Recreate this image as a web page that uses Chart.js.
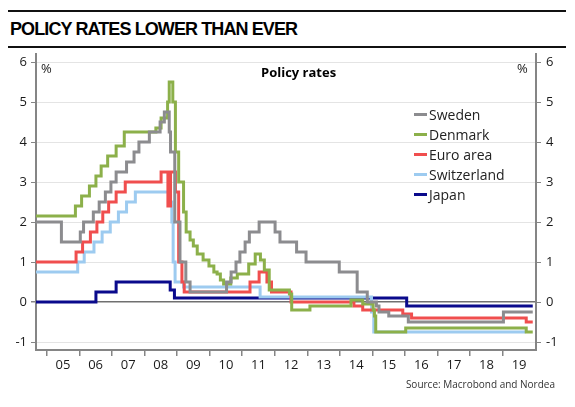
<!DOCTYPE html>
<html>
<head>
<meta charset="utf-8">
<script src="https://cdn.jsdelivr.net/npm/chart.js@4.4.1/dist/chart.umd.min.js"></script>
<style>
  body { margin: 0; background: #fff; }
  #wrap { position: relative; width: 575px; height: 407px; overflow: hidden; font-family: "Open Sans", sans-serif; }
  #ratesChart { position: absolute; left: 0; top: 0; }
  .rule { position: absolute; left: 8px; width: 558px; height: 2px; background: #111; }
  .title { position: absolute; left: 10px; top: 19px; font: bold 18px "Liberation Sans", Arial, sans-serif; color: #000; letter-spacing: -0.9px; }
  .sub { position: absolute; left: 261px; top: 63px; font-weight: bold; font-size: 13px; color: #000; }
  .pct { position: absolute; top: 59px; font-size: 13px; color: #222; }
  #legend { position: absolute; left: 414px; top: 104px; }
  #legend .item { height: 20px; display: flex; align-items: center; font-size: 14px; color: #222; }
  #legend .sw { display: inline-block; width: 13px; height: 3px; margin-right: 2px; }
  .source { position: absolute; right: 20px; top: 377px; font-size: 10px; color: #333; }
</style>
</head>
<body>
<div id="wrap">
  <div class="rule" style="top:10px"></div>
  <div class="title">POLICY RATES LOWER THAN EVER</div>
  <div class="rule" style="top:46px"></div>
  <canvas id="ratesChart" width="575" height="407"></canvas>
  <div class="sub">Policy rates</div>
  <div class="pct" style="left:41px">%</div>
  <div class="pct" style="left:517px">%</div>
  <div id="legend"></div>
  <div class="source">Source: Macrobond and Nordea</div>
</div>
<script>
// DATOS: [año, tipo] -- cada punto marca el inicio de un nuevo nivel
const seriesNames = ['Sweden', 'Denmark', 'Euro area', 'Switzerland', 'Japan'];
const seriesColors = ['#8c8c8f', '#8cb04a', '#f04e4e', '#9dcbf0', '#0a0a8c'];

const sweden = [
  [2004.67, 2.0], [2005.45, 1.5], [2006.03, 1.75], [2006.13, 2.0], [2006.43, 2.25], [2006.61, 2.5],
  [2006.8, 2.75], [2006.97, 3.0], [2007.13, 3.25], [2007.45, 3.5], [2007.68, 3.75], [2007.83, 4.0],
  [2008.15, 4.25], [2008.48, 4.5], [2008.61, 4.75], [2008.76, 4.25], [2008.8, 3.75], [2008.93, 2.0],
  [2009.09, 1.0], [2009.27, 0.5], [2009.4, 0.25], [2010.52, 0.5], [2010.66, 0.75], [2010.81, 1.0],
  [2010.93, 1.25], [2011.09, 1.5], [2011.22, 1.75], [2011.52, 2.0], [2012.01, 1.75], [2012.16, 1.5],
  [2012.67, 1.25], [2012.96, 1.0], [2013.98, 0.75], [2014.53, 0.25], [2014.84, 0.0], [2015.12, -0.1],
  [2015.2, -0.25], [2015.5, -0.35], [2016.1, -0.5], [2019.02, -0.25], [2019.92, -0.25]
];
const denmark = [
  [2004.67, 2.15], [2005.88, 2.4], [2006.07, 2.65], [2006.31, 2.9], [2006.51, 3.15], [2006.67, 3.4],
  [2006.87, 3.65], [2007.13, 3.9], [2007.38, 4.25], [2008.35, 4.35], [2008.51, 4.6], [2008.71, 5.0],
  [2008.76, 5.5], [2008.87, 5.0], [2008.95, 3.75], [2009.05, 3.0], [2009.2, 2.25], [2009.28, 1.75],
  [2009.4, 1.55], [2009.5, 1.4], [2009.62, 1.2], [2009.8, 1.05], [2009.98, 0.9], [2010.13, 0.75],
  [2010.23, 0.7], [2010.33, 0.55], [2010.43, 0.45], [2010.65, 0.6], [2010.85, 0.7], [2011.2, 0.95],
  [2011.4, 1.2], [2011.56, 1.05], [2011.68, 0.8], [2011.83, 0.3], [2012.45, 0.2], [2012.52, -0.2],
  [2013.08, -0.1], [2014.34, 0.05], [2014.7, -0.05], [2015.02, -0.2], [2015.06, -0.35], [2015.1, -0.75],
  [2016.02, -0.65], [2019.72, -0.75], [2019.92, -0.75]
];
const euroArea = [
  [2004.67, 1.0], [2005.9, 1.25], [2006.1, 1.5], [2006.34, 1.75], [2006.54, 2.0], [2006.72, 2.25],
  [2006.9, 2.5], [2007.13, 2.75], [2007.41, 3.0], [2008.51, 3.25], [2008.72, 2.4], [2008.8, 3.25],
  [2008.95, 2.75], [2009.05, 1.0], [2009.15, 0.5], [2009.22, 0.25], [2011.24, 0.5], [2011.52, 0.75],
  [2011.76, 0.5], [2011.9, 0.25], [2012.5, 0.0], [2014.43, -0.1], [2014.7, -0.2], [2015.93, -0.3],
  [2016.2, -0.4], [2019.72, -0.5], [2019.92, -0.5]
];
const switzerland = [
  [2004.67, 0.75], [2005.95, 1.0], [2006.15, 1.25], [2006.45, 1.5], [2006.7, 1.75], [2006.95, 2.0],
  [2007.2, 2.25], [2007.45, 2.5], [2007.72, 2.75], [2008.76, 2.5], [2008.84, 2.0], [2008.88, 1.0],
  [2008.94, 0.5], [2009.2, 0.375], [2011.55, 0.125], [2014.97, -0.25], [2015.04, -0.75], [2019.7, -0.75]
];
const japan = [
  [2004.67, 0.0], [2006.51, 0.25], [2007.13, 0.5], [2008.79, 0.3], [2008.92, 0.1], [2016.05, -0.1],
  [2019.92, -0.1]
];

const yearTicks = [2005, 2006, 2007, 2008, 2009, 2010, 2011, 2012, 2013, 2014, 2015, 2016, 2017, 2018, 2019];
const rateTicks = [-1, 0, 1, 2, 3, 4, 5, 6];

const allSeries = [sweden, denmark, euroArea, switzerland, japan];

// LEYENDA EN HTML
const legendBox = document.getElementById('legend');
seriesNames.forEach((name, i) => {
    const row = document.createElement('div');
    row.className = 'item';
    row.innerHTML = '<span class="sw" style="background:' + seriesColors[i] + '"></span>' + name;
    legendBox.appendChild(row);
});

const tickFont = { family: 'Open Sans', size: 13 };
const axisGrey = '#858585';

const ctx = document.getElementById('ratesChart').getContext('2d');
const ratesChart = new Chart(ctx, {
    type: 'line',
    data: {
        datasets: allSeries.map((s, i) => ({
            label: seriesNames[i],
            data: s.map(p => ({ x: p[0], y: p[1] })),
            borderColor: seriesColors[i],
            backgroundColor: seriesColors[i],
            borderWidth: 3,
            stepped: 'before',
            pointRadius: 0,
            fill: false
        }))
    },
    options: {
        responsive: false,
        animation: false,
        devicePixelRatio: 1,
        layout: { padding: { top: 54, bottom: 33, left: 0, right: 0 } },
        plugins: {
            legend: { display: false },
            tooltip: { enabled: false }
        },
        scales: {
            x: {
                type: 'linear',
                min: 2004.67,
                max: 2020.02,
                afterBuildTicks: scale => { scale.ticks = yearTicks.map(v => ({ value: v })); },
                afterFit: scale => { scale.height = 24; },
                ticks: {
                    autoSkip: false,
                    maxRotation: 0,
                    labelOffset: 16.3,
                    padding: 1,
                    color: '#1a1a1a',
                    font: tickFont,
                    callback: v => String(v).slice(2)
                },
                grid: { drawOnChartArea: false, drawTicks: true, tickLength: 6, color: axisGrey, lineWidth: 1.5 },
                border: { display: true, color: axisGrey, width: 2 }
            },
            y: {
                position: 'left',
                min: -1.2,
                max: 6.2,
                afterBuildTicks: scale => { scale.ticks = rateTicks.map(v => ({ value: v })); },
                afterFit: scale => { scale.width = 36; },
                ticks: { padding: 4, color: '#1a1a1a', font: tickFont },
                grid: {
                    color: c => c.tick && c.tick.value === 0 ? '#707070' : '#e4e4e4',
                    lineWidth: c => c.tick && c.tick.value === 0 ? 1.5 : 1,
                    tickColor: axisGrey,
                    tickLength: 5
                },
                border: { display: true, color: axisGrey, width: 2 }
            },
            y2: {
                position: 'right',
                display: true,
                min: -1.2,
                max: 6.2,
                afterBuildTicks: scale => { scale.ticks = rateTicks.map(v => ({ value: v })); },
                afterFit: scale => { scale.width = 39; },
                ticks: { padding: 5, color: '#1a1a1a', font: tickFont },
                grid: { drawOnChartArea: false, tickColor: axisGrey, tickLength: 5 },
                border: { display: true, color: axisGrey, width: 2 }
            }
        }
    }
});
</script>
</body>
</html>
